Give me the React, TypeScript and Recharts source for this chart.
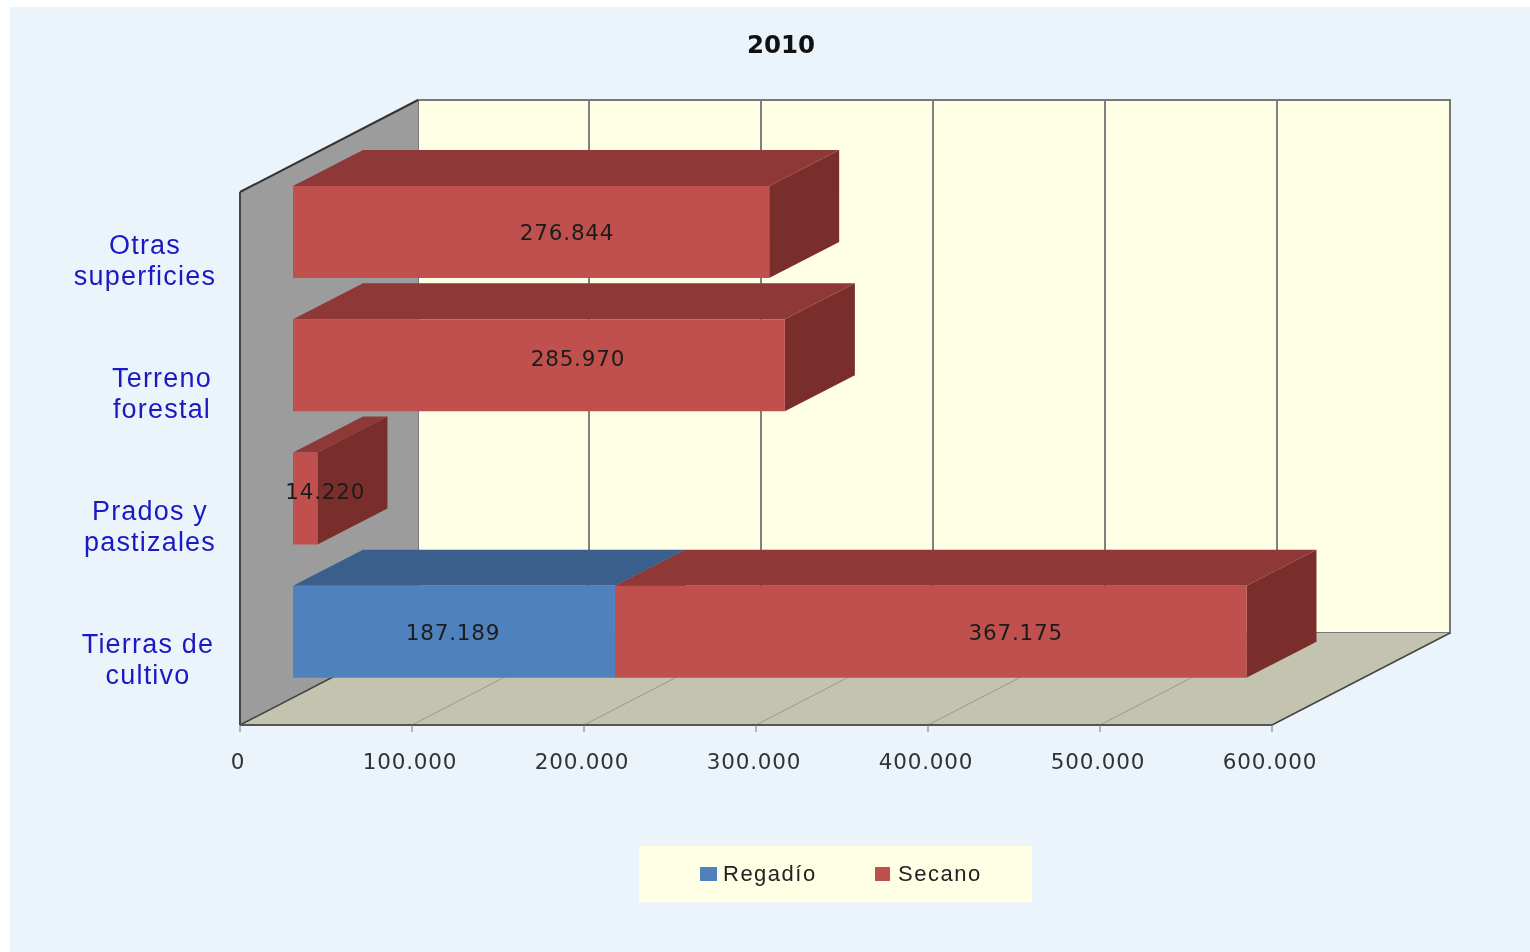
import { Bar, BarChart, CartesianGrid, Legend, XAxis, YAxis, usePlotArea } from "recharts";

const categories = ["Tierras de cultivo", "Prados y pastizales", "Terreno forestal", "Otras superficies"];
const regadio = [187189, 0, 0, 0];
const secano = [367175, 14220, 285970, 276844];
const xTicks = [0, 100000, 200000, 300000, 400000, 500000, 600000];

const data = categories.map((name, i) => ({ name, regadio: regadio[i], secano: secano[i] }));

// wrapped axis labels and where each one sits
const tickLines: Record<string, string[]> = {
  "Tierras de cultivo": ["Tierras de", "cultivo"],
  "Prados y pastizales": ["Prados y", "pastizales"],
  "Terreno forestal": ["Terreno", "forestal"],
  "Otras superficies": ["Otras", "superficies"],
};
const tickCentre: Record<string, number> = {
  "Tierras de cultivo": 148,
  "Prados y pastizales": 150,
  "Terreno forestal": 162,
  "Otras superficies": 145,
};
// excel puts the 3d labels off centre
const labelShiftX: Record<string, number[]> = {
  regadio: [-1, 0, 0, 0],
  secano: [85, 20, 39, 36],
};
const labelShiftY: Record<string, number[]> = {
  regadio: [0, 0, 0, 0],
  secano: [0, -8, -7, 0],
};

const WALL_DX = 178;
const WALL_DY = -92;
const BAR_DX = 53;
const BAR_DY = -27;
const DEPTH_DX = 70;
const DEPTH_DY = -36;

const formatNum = (v: number) => String(v).replace(/\B(?=(\d{3})+$)/g, ".");

const pts = (list: number[][]) => list.map((p) => p.join(",")).join(" ");

function Walls() {
  const plot = usePlotArea();
  if (!plot) return null;
  const { x, y, width, height } = plot;
  const b = y + height;
  const r = x + width;
  return (
    <g>
      <polygon points={pts([[x + WALL_DX, y + WALL_DY], [r + WALL_DX, y + WALL_DY], [r + WALL_DX, b + WALL_DY], [x + WALL_DX, b + WALL_DY]])} fill="#FFFFE6" stroke="#777" strokeWidth={2} />
      <polygon points={pts([[x, b], [x + WALL_DX, b + WALL_DY], [r + WALL_DX, b + WALL_DY], [r, b]])} fill="#C4C3B0" />
      <polygon points={pts([[x, y], [x + WALL_DX, y + WALL_DY], [x + WALL_DX, b + WALL_DY], [x, b]])} fill="#9C9C9C" />
      <line x1={x} y1={y} x2={x + WALL_DX} y2={y + WALL_DY} stroke="#333" strokeWidth={2} />
      <text x={781} y={53} textAnchor="middle" fontFamily="DejaVu Sans" fontWeight="bold" fontSize={24.5} fill="#111">
        2010
      </text>
    </g>
  );
}

// walls go in with the first grid line so the lines land on top of them
function gridLine(props: any) {
  const { x1, y1, y2, index } = props;
  const outer = index === 0 || index === xTicks.length - 1;
  return (
    <g key={x1}>
      {index === 0 && <Walls />}
      {!outer && (
        <line x1={x1 + WALL_DX - 1} y1={y1 + WALL_DY} x2={x1 + WALL_DX - 1} y2={y2 + WALL_DY} stroke="#808080" strokeWidth={2} />
      )}
      <line
        x1={x1}
        y1={y2}
        x2={x1 + WALL_DX}
        y2={y2 + WALL_DY}
        stroke={outer ? "#444" : "#9A978C"}
        strokeWidth={outer ? 1.5 : 1}
      />
    </g>
  );
}

function Box(props: any) {
  const { x, y, width, height, index, series, front, top, side } = props;
  const raw = props.payload[series];
  if (!raw) return null;
  const fx = x + BAR_DX;
  const fy = y + BAR_DY;
  const fr = fx + width;
  const fb = fy + height;
  return (
    <g>
      <polygon points={pts([[fx, fy], [fx + DEPTH_DX, fy + DEPTH_DY], [fr + DEPTH_DX, fy + DEPTH_DY], [fr, fy]])} fill={top} />
      <polygon points={pts([[fr, fy], [fr + DEPTH_DX, fy + DEPTH_DY], [fr + DEPTH_DX, fb + DEPTH_DY], [fr, fb]])} fill={side} />
      <rect x={fx} y={fy} width={width} height={height} fill={front} />
      <text
        x={fx + width / 2 + labelShiftX[series][index]}
        y={fy + height / 2 + 8 + labelShiftY[series][index]}
        textAnchor="middle"
        fontFamily="DejaVu Sans"
        fontSize={21.5}
        letterSpacing={0.8}
        fill="#1c1c1c"
      >
        {formatNum(raw)}
      </text>
    </g>
  );
}

function CategoryTick(props: any) {
  const { y, payload } = props;
  const lines = tickLines[payload.value];
  return (
    <text textAnchor="middle" fontFamily="Liberation Sans" fontSize={27} letterSpacing={1.2} fill="#1A1AC0">
      <tspan x={tickCentre[payload.value]} y={y - 5}>{lines[0]}</tspan>
      <tspan x={tickCentre[payload.value]} y={y + 26}>{lines[1]}</tspan>
    </text>
  );
}

function LegendBox(props: any) {
  return (
    <div style={{ width: 393, height: 56, background: "#FFFFE6", position: "relative" }}>
      {props.payload.map((item: any, i: number) => (
        <div key={item.value} style={{ position: "absolute", left: i === 0 ? 61 : 236, top: 13, display: "flex", alignItems: "center", height: 30 }}>
          <span style={{ width: i === 0 ? 17 : 15, height: 14, background: item.color, marginRight: i === 0 ? 6 : 8 }} />
          <span style={{ fontFamily: "Liberation Sans", fontSize: 22, letterSpacing: 1.5, color: "#222" }}>{item.value}</span>
        </div>
      ))}
    </div>
  );
}

export default function App() {
  return (
    <div style={{ position: "absolute", left: 0, top: 0, width: 1530, height: 952, background: "#fff", overflow: "hidden" }}>
      <div style={{ position: "absolute", left: 10, top: 7, right: 0, bottom: 0, background: "#EBF4FB" }} />
      <div style={{ position: "absolute", left: 0, top: 0, filter: "blur(0.6px)" }}>
        <BarChart
          width={1530}
          height={952}
          data={data}
          layout="vertical"
          margin={{ top: 192, right: 258, bottom: 167, left: 10 }}
          barCategoryGap={0}
        >
          <CartesianGrid horizontal={false} vertical={gridLine} syncWithTicks />
          <XAxis
            type="number"
            domain={[0, 600000]}
            ticks={xTicks}
            interval={0}
            height={60}
            tickSize={7}
            tickFormatter={formatNum}
            tick={{ fontFamily: "DejaVu Sans", fontSize: 21.5, letterSpacing: 0.8, fill: "#333", dx: -2, dy: 20 }}
            axisLine={{ stroke: "#555", strokeWidth: 2 }}
            tickLine={{ stroke: "#777" }}
          />
          <YAxis
            type="category"
            dataKey="name"
            reversed
            width={230}
            tick={CategoryTick}
            tickLine={false}
            axisLine={{ stroke: "#444", strokeWidth: 2 }}
          />
          <Bar
            dataKey="regadio"
            name="Regadío"
            stackId="a"
            barSize={92}
            fill="#4F81BD"
            isAnimationActive={false}
            shape={(p: any) => <Box {...p} series="regadio" front="#4F81BD" top="#3B5F8C" side="#34547C" />}
          />
          <Bar
            dataKey="secano"
            name="Secano"
            stackId="a"
            barSize={92}
            fill="#C0504D"
            isAnimationActive={false}
            shape={(p: any) => <Box {...p} series="secano" front="#C0504D" top="#8E3937" side="#7A2E2C" />}
          />
          <Legend
            layout="horizontal"
            verticalAlign="middle"
            content={LegendBox}
            wrapperStyle={{ left: 639, top: 846, width: 393, height: 56 }}
          />
        </BarChart>
      </div>
    </div>
  );
}
